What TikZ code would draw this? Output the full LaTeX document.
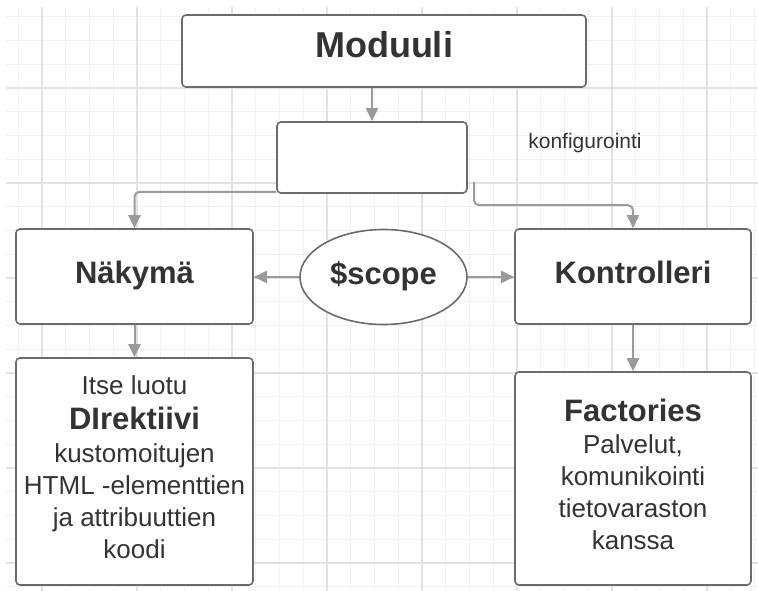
\documentclass[tikz,border=0pt]{standalone}
\usepackage{fontspec}
\setmainfont{Liberation Sans}
\usetikzlibrary{arrows.meta,shapes.geometric}

\definecolor{textgray}{HTML}{333333}
\definecolor{boxgray}{HTML}{6B6B6B}
\definecolor{arrowgray}{HTML}{9A9A9A}
\definecolor{gridminor}{HTML}{F1F1F1}
\definecolor{gridmajor}{HTML}{E2E2E2}

\begin{document}
\begin{tikzpicture}[
		x=1pt, y=-1pt,
		box/.style={
			draw=boxgray,
			line width=1.6pt,
			rounded corners=4pt,
			fill=white,
			inner sep=0pt,
			align=center,
			text=textgray
		},
		title/.style={font=\fontsize{31}{37}\selectfont\bfseries, text height=22pt, text depth=8pt},
		body/.style={font=\fontsize{26}{32}\selectfont, text depth=8pt},
		conn/.style={draw=arrowgray, line width=2pt, rounded corners=5pt, -{Triangle[length=13pt,width=12pt]}}
		]
		
		\useasboundingbox (0,0) rectangle (758,591);
		
		% taustan ruudukko
		\begin{scope}
			\clip (6,7) rectangle (758,591);
			\foreach \i in {0,...,31}
				\draw[gridminor, line width=1pt] ({18.25+23.75*\i},7) -- ++(0,584);
			\foreach \j in {0,...,24}
				\draw[gridminor, line width=1pt] (6,{16.75+23.75*\j}) -- ++(752,0);
			\foreach \i in {0,...,7}
				\draw[gridmajor, line width=1.3pt] ({42+95*\i},7) -- ++(0,584);
			\foreach \j in {0,...,5}
				\draw[gridmajor, line width=1.3pt] (6,{88+95*\j}) -- ++(752,0);
		\end{scope}
		
		\node[box, minimum width=404pt, minimum height=72pt,
			font=\fontsize{36}{42}\selectfont\bfseries, text height=26pt, text depth=12pt]
			(moduuli) at (384,51) {Moduuli};
		\node[box, minimum width=190pt, minimum height=71pt] (tyhja) at (372,157.5) {};
		\node[text=textgray, font=\fontsize{21}{25}\selectfont] (konf) at (585,143) {konfigurointi};
		
		\node[box, title, minimum width=237pt, minimum height=95pt] (nakyma) at (134.5,276.5) {Näkymä};
		\node[box, title, ellipse, sharp corners, minimum width=167pt, minimum height=95pt] (scope) at (383.5,277) {\$scope};
		\node[box, title, minimum width=236pt, minimum height=95pt] (kontrolleri) at (633,276.5) {Kontrolleri};
		
		\node[box, body, minimum width=237pt, minimum height=227pt] (direktiivi) at (134.5,471.5) {%
			Itse luotu\\[3pt]
			{\fontsize{31}{37}\selectfont\bfseries DIrektiivi}\\[1pt]
			kustomoitujen\\
			HTML -elementtien\\
			ja attribuuttien\\
			koodi};
		\node[box, body, minimum width=236pt, minimum height=213pt] (factories) at (633,478.5) {%
			{\fontsize{31}{37}\selectfont\bfseries Factories}\\
			Palvelut,\\
			komunikointi\\
			tietovaraston\\
			kanssa};
		
		\coordinate (konfalku) at (474,182);
		
		\draw[conn] (moduuli.south -| tyhja.north) -- (tyhja.north);
		\draw[conn] ([yshift=2pt]tyhja.south west) -| (nakyma.north);
		\draw[conn] (konfalku) |- ([yshift=23pt]kontrolleri.north) -- (kontrolleri.north);
		\draw[conn] (scope.west) -- (scope.west -| nakyma.east);
		\draw[conn] (scope.east) -- (scope.east -| kontrolleri.west);
		\draw[conn] (nakyma.south) -- (direktiivi.north);
		\draw[conn] (kontrolleri.south) -- (factories.north);
		
	\end{tikzpicture}
\end{document}
